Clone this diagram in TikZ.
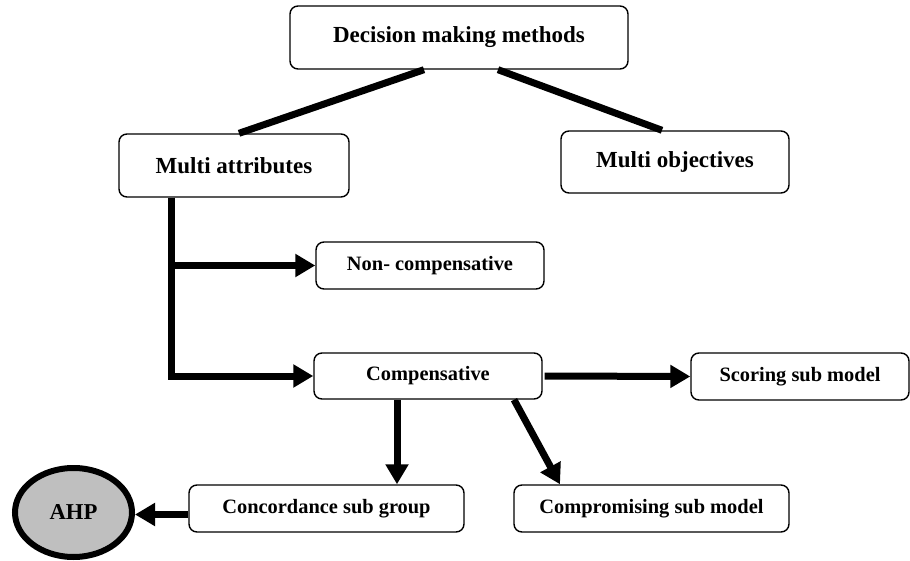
\documentclass[tikz,border=0pt]{standalone}
\usepackage{fontspec}
\setmainfont{Liberation Serif}
\usetikzlibrary{arrows.meta,shapes.geometric}

\tikzset{
  box/.style={draw=black,line width=1.4pt,rounded corners=8pt,fill=white,
    font=\fontsize{20.4}{24}\selectfont\bfseries,minimum height=47pt},
  bigbox/.style={box,font=\fontsize{23}{27}\selectfont\bfseries,minimum height=63pt},
  ln/.style={line width=7pt},
  arr/.style={line width=7pt,-{Triangle[length=20pt,width=22pt]}}
}

\begin{document}
\begin{tikzpicture}[x=1pt,y=-1pt]
\useasboundingbox (0,0) rectangle (910,561);

% top level
\node[bigbox,minimum width=338pt] (dmm) at (459,37.5) {Decision making methods};
\node[bigbox,minimum width=230pt] (mattr) at (234,165.5) {Multi attributes};
\node[bigbox,minimum width=228pt,minimum height=62pt] (mobj) at (675,162) {Multi objectives};
\draw[ln] ([xshift=-35pt]dmm.south) -- ([xshift=5pt]mattr.north);
\draw[ln] ([xshift=39pt]dmm.south) -- ([xshift=-13pt]mobj.north);

% multi attribute branches
\node[box,minimum width=228pt] (noncomp) at (430,265.5) {Non- compensative};
\node[box,minimum width=228pt,minimum height=46pt] (comp) at (428,376) {Compensative};
\coordinate (trunk) at ([xshift=-63pt]mattr.south);
\draw[arr] (trunk) |- (noncomp.west);
\draw[arr] (trunk) |- (comp.west);

% compensative sub models
\node[box,minimum width=218pt] (scoring) at (800,376.5) {Scoring sub model};
\node[box,minimum width=275pt] (concord) at (326.5,508.5) {Concordance sub group};
\node[box,minimum width=275pt] (comprom) at (651.5,508.5) {Compromising sub model};
\draw[arr] ([xshift=2pt]comp.east) -- (scoring.west);
\coordinate (cdown) at ([xshift=-31pt]comp.south);
\draw[arr] (cdown) -- (cdown |- concord.north);
\draw[arr] ([xshift=86pt]comp.south) -- ([xshift=-91.5pt]comprom.north);

% AHP
\node[ellipse,draw=black,line width=6pt,fill=gray!50,minimum width=117pt,minimum height=89pt,
  font=\fontsize{22.7}{26}\selectfont\bfseries] (ahp) at (73.5,512.5) {AHP};
\coordinate (cleft) at ([yshift=-6pt]concord.west);
\draw[arr] (cleft) -- (ahp.east |- cleft);
\end{tikzpicture}
\end{document}
